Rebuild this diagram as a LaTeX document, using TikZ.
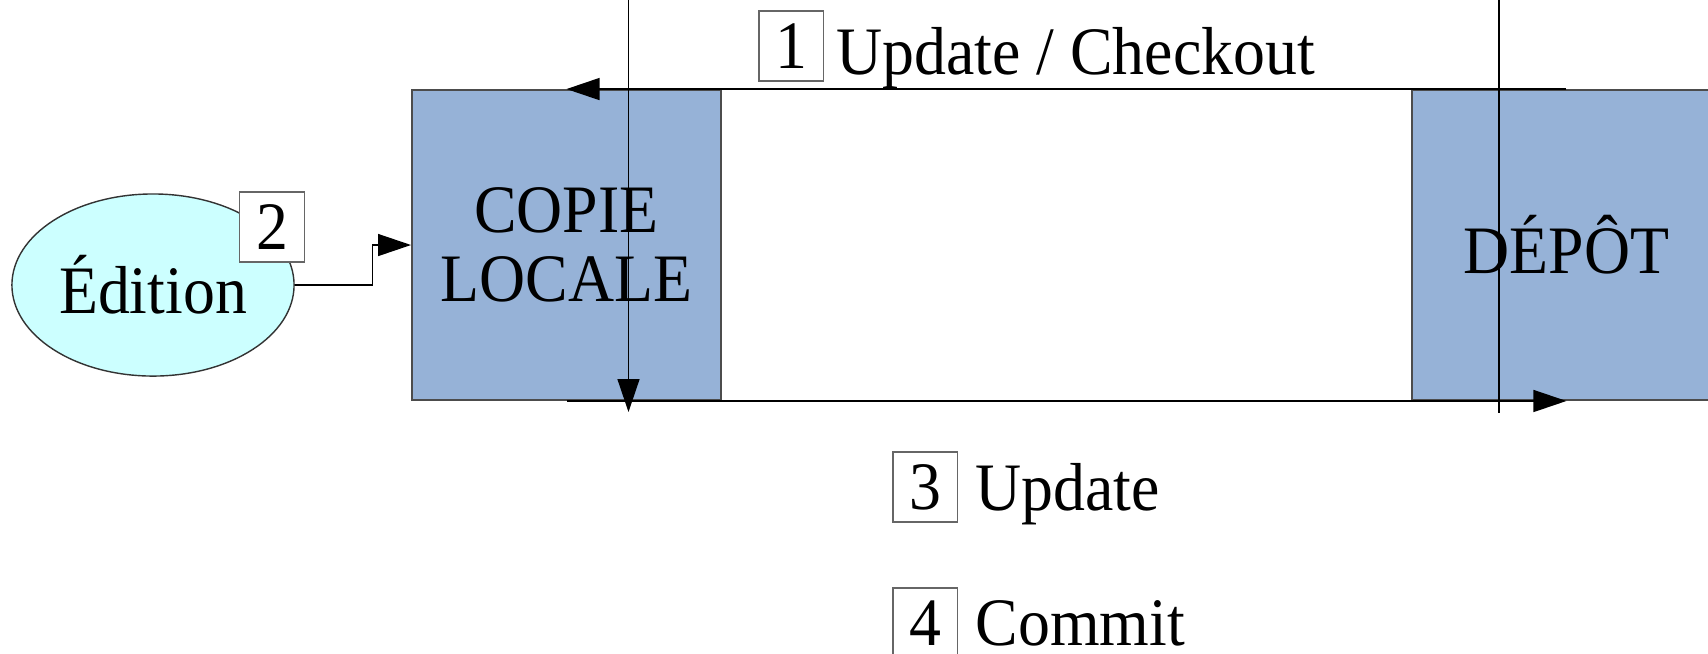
\documentclass[tikz,border=0pt]{standalone}
\usepackage{fontspec}
\setmainfont{Liberation Serif}[FakeStretch=0.94]
\usepackage{xcolor}
\usetikzlibrary{positioning,shapes.geometric,arrows.meta}

\definecolor{boxblue}{RGB}{150,178,215}
\definecolor{ovalcyan}{RGB}{204,255,255}

\tikzset{
    box/.style={draw=black!70, line width=0.5pt, fill=boxblue, rectangle, minimum width=3.09cm, minimum height=3.10cm, align=center, inner sep=0pt},
    oval/.style={draw=black!80, line width=0.4pt, fill=ovalcyan, ellipse, minimum width=2.82cm, minimum height=1.82cm, inner sep=0pt},
    numbox/.style={draw=black!60, line width=0.4pt, fill=white, rectangle, minimum width=0.645cm, minimum height=0.70cm, inner sep=0pt},
    steplabel/.style={anchor=base west, inner sep=0pt},
    arr/.style={-{Triangle[length=3.3mm,width=2.2mm]}, line width=0.4pt}
}

\begin{document}
\begin{tikzpicture}[x=0.01cm, y=-0.01cm, font=\fontsize{19.3pt}{19.6pt}\selectfont]
        \useasboundingbox (0,0) rectangle (1708,653);
        \clip (0,0) rectangle (1708,653);

        \node (copie) [box] at (566.5,245) {COPIE\\LOCALE};
        \node (depot) [box, right=6.886cm of copie] {DÉPÔT};
        \node (edition) [oval] at (153,285) {Édition};

        \coordinate (up1) at (628.5,0);
        \coordinate (dn1) at (628.5,412);
        \coordinate (up2) at (1499,0);
        \coordinate (dn2) at (1499,413);

        \draw[arr] (depot.north) -- (copie.north);
        \draw[arr] (copie.south) -- (depot.south);
        \draw[arr] (up1) -- (dn1);
        \draw[line width=0.4pt] (up2) -- (dn2);
        \draw[arr] (edition.east) -- ++(78,0) |- (copie.west);

        \node (n2) [numbox] at (272,227) {2};

        \node (n1) [numbox] at (791.2,46) {1};
        \node (t1) [steplabel] at (835.7,74.6) {Update / Checkout};
        \node (n3) [numbox] at (925.2,487) {3};
        \node (t3) [steplabel] at (975,510) {Update};
        \node (n4) [numbox] at (925.2,623) {4};
        \node (t4) [steplabel] at (975,645) {Commit};
    \end{tikzpicture}
\end{document}
